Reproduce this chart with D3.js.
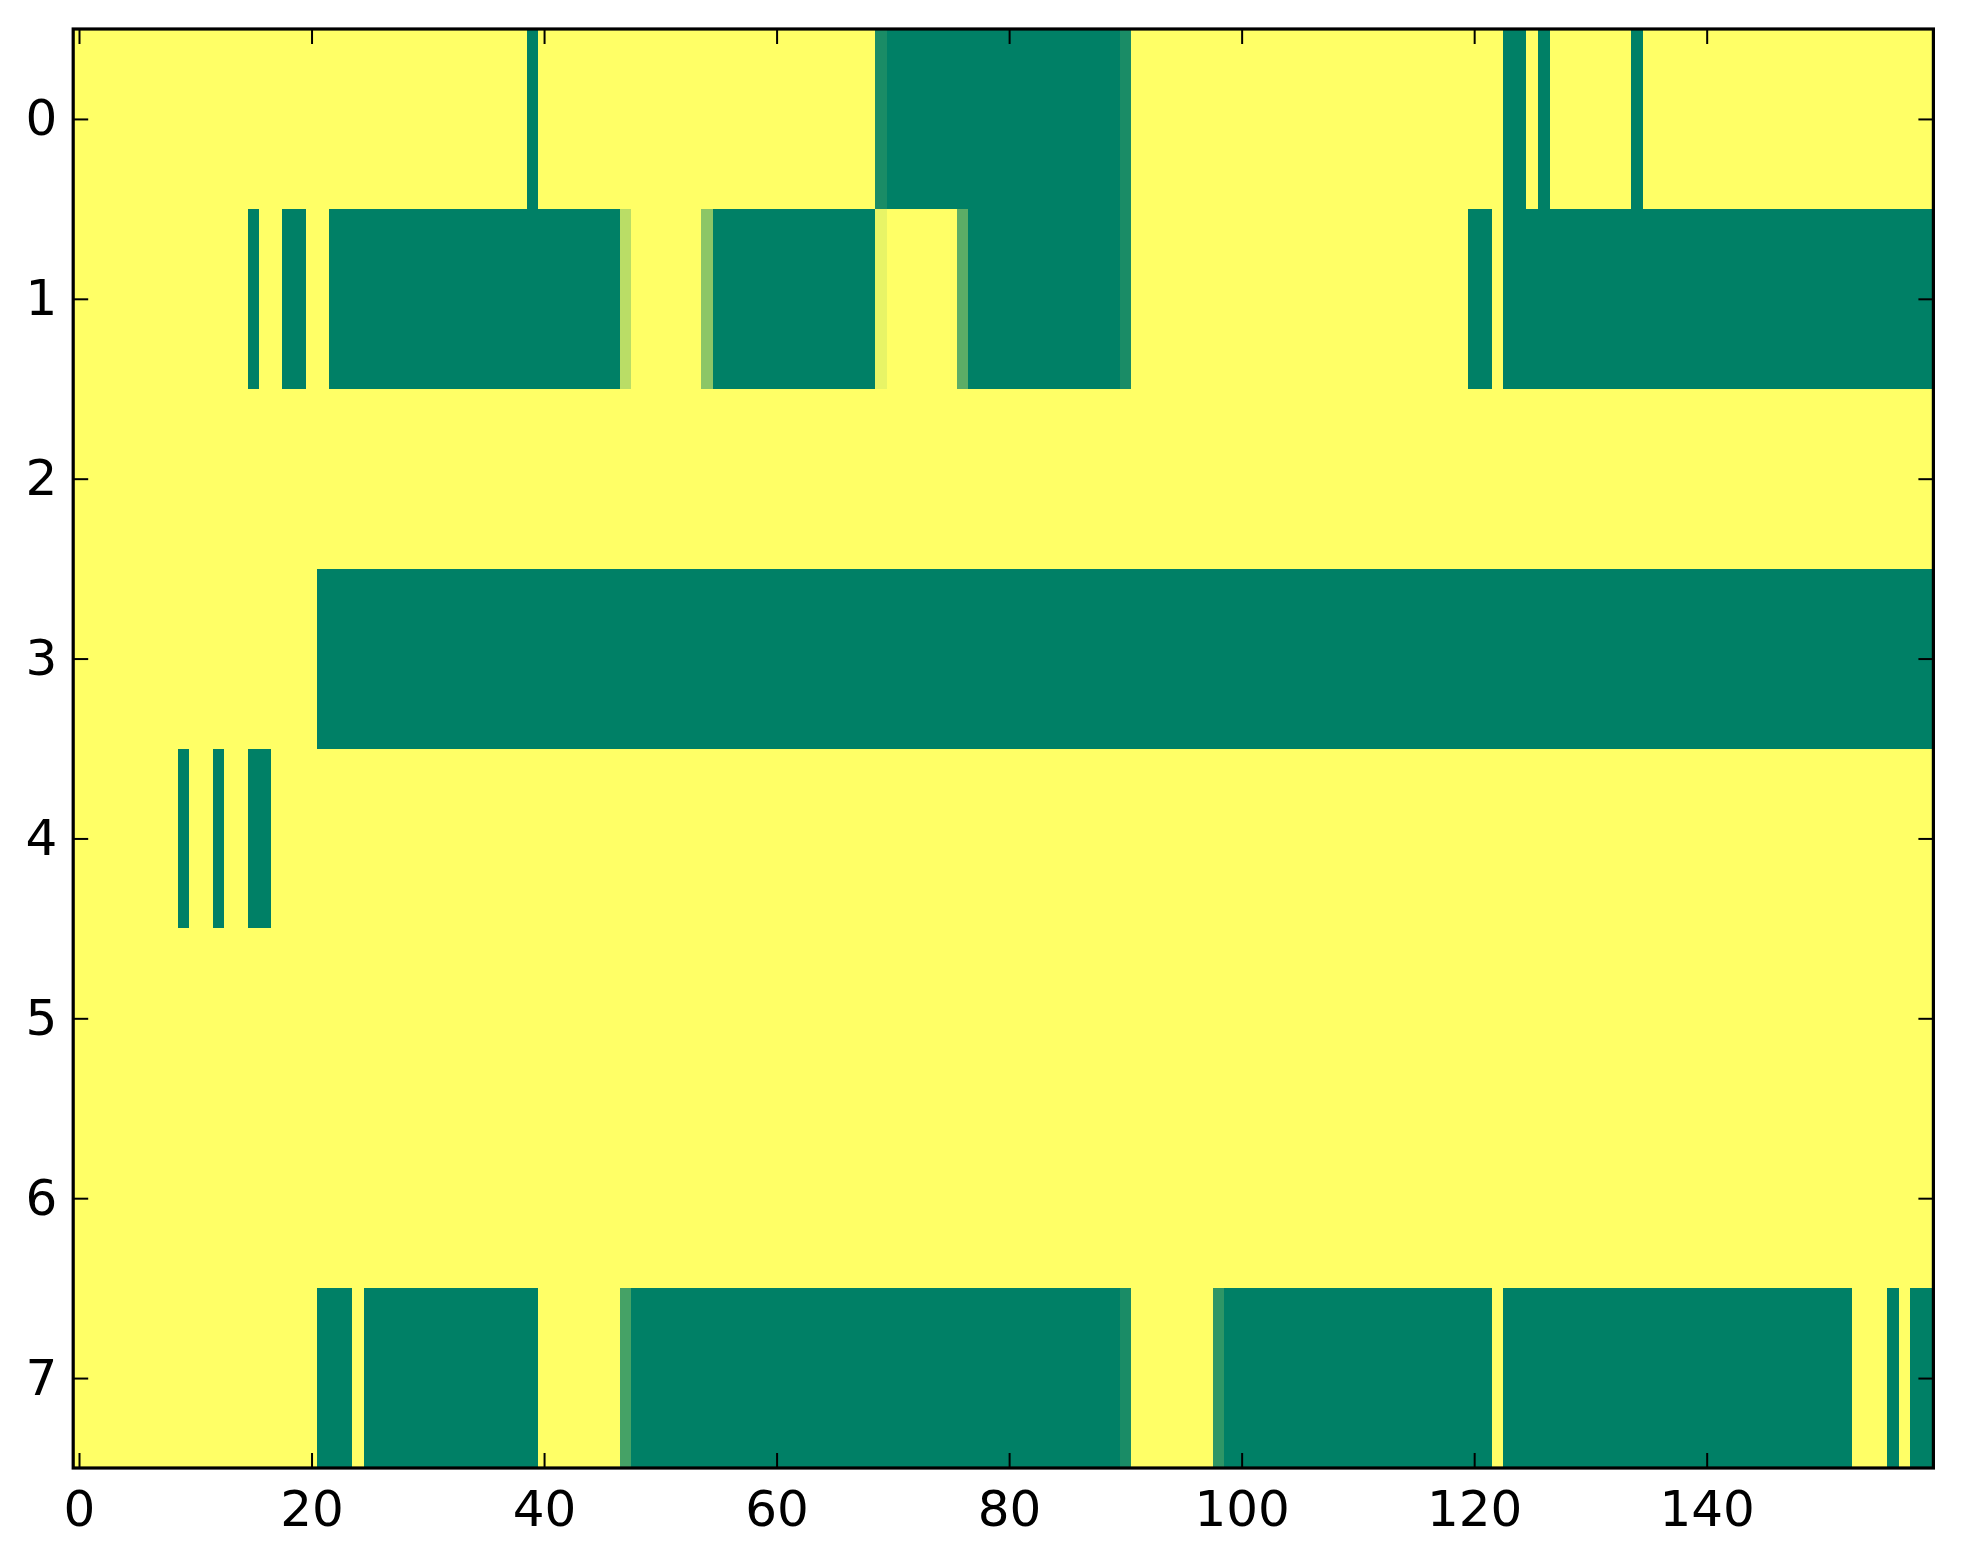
<!DOCTYPE html>
<html>
<head>
<meta charset="utf-8">
<script src="https://cdn.jsdelivr.net/npm/d3@7"></script>
<style>
  body { margin: 0; background: #fff; }
  svg { display: block; }
  .tick text { font-family: "DejaVu Sans", sans-serif; font-size: 50px; fill: #000; }
</style>
</head>
<body>
<div id="chart"></div>
<script>

// one array per image row (row 0 at the top), 160 columns each
const row0 = [
  1,1,1,1,1,1,1,1,1,1,1,1,1,1,1,1,1,1,1,1,
  1,1,1,1,1,1,1,1,1,1,1,1,1,1,1,1,1,1,1,0,
  1,1,1,1,1,1,1,1,1,1,1,1,1,1,1,1,1,1,1,1,
  1,1,1,1,1,1,1,1,1,0.1,0,0,0,0,0,0,0,0,0,0,
  0,0,0,0,0,0,0,0,0,0,0.1,1,1,1,1,1,1,1,1,1,
  1,1,1,1,1,1,1,1,1,1,1,1,1,1,1,1,1,1,1,1,
  1,1,1,0,0,1,0,1,1,1,1,1,1,1,0,1,1,1,1,1,
  1,1,1,1,1,1,1,1,1,1,1,1,1,1,1,1,1,1,1,1
];
const row1 = [
  1,1,1,1,1,1,1,1,1,1,1,1,1,1,1,0,1,1,0,0,
  1,1,0,0,0,0,0,0,0,0,0,0,0,0,0,0,0,0,0,0,
  0,0,0,0,0,0,0,0.73,1,1,1,1,1,1,0.55,0,0,0,0,0,
  0,0,0,0,0,0,0,0,0,0.91,1,1,1,1,1,1,0.36,0,0,0,
  0,0,0,0,0,0,0,0,0,0,0.1,1,1,1,1,1,1,1,1,1,
  1,1,1,1,1,1,1,1,1,1,1,1,1,1,1,1,1,1,1,1,
  0,0,1,0,0,0,0,0,0,0,0,0,0,0,0,0,0,0,0,0,
  0,0,0,0,0,0,0,0,0,0,0,0,0,0,0,0,0,0,0,0
];
const row2 = [
  1,1,1,1,1,1,1,1,1,1,1,1,1,1,1,1,1,1,1,1,
  1,1,1,1,1,1,1,1,1,1,1,1,1,1,1,1,1,1,1,1,
  1,1,1,1,1,1,1,1,1,1,1,1,1,1,1,1,1,1,1,1,
  1,1,1,1,1,1,1,1,1,1,1,1,1,1,1,1,1,1,1,1,
  1,1,1,1,1,1,1,1,1,1,1,1,1,1,1,1,1,1,1,1,
  1,1,1,1,1,1,1,1,1,1,1,1,1,1,1,1,1,1,1,1,
  1,1,1,1,1,1,1,1,1,1,1,1,1,1,1,1,1,1,1,1,
  1,1,1,1,1,1,1,1,1,1,1,1,1,1,1,1,1,1,1,1
];
const row3 = [
  1,1,1,1,1,1,1,1,1,1,1,1,1,1,1,1,1,1,1,1,
  1,0,0,0,0,0,0,0,0,0,0,0,0,0,0,0,0,0,0,0,
  0,0,0,0,0,0,0,0,0,0,0,0,0,0,0,0,0,0,0,0,
  0,0,0,0,0,0,0,0,0,0,0,0,0,0,0,0,0,0,0,0,
  0,0,0,0,0,0,0,0,0,0,0,0,0,0,0,0,0,0,0,0,
  0,0,0,0,0,0,0,0,0,0,0,0,0,0,0,0,0,0,0,0,
  0,0,0,0,0,0,0,0,0,0,0,0,0,0,0,0,0,0,0,0,
  0,0,0,0,0,0,0,0,0,0,0,0,0,0,0,0,0,0,0,0
];
const row4 = [
  1,1,1,1,1,1,1,1,1,0,1,1,0,1,1,0,0,1,1,1,
  1,1,1,1,1,1,1,1,1,1,1,1,1,1,1,1,1,1,1,1,
  1,1,1,1,1,1,1,1,1,1,1,1,1,1,1,1,1,1,1,1,
  1,1,1,1,1,1,1,1,1,1,1,1,1,1,1,1,1,1,1,1,
  1,1,1,1,1,1,1,1,1,1,1,1,1,1,1,1,1,1,1,1,
  1,1,1,1,1,1,1,1,1,1,1,1,1,1,1,1,1,1,1,1,
  1,1,1,1,1,1,1,1,1,1,1,1,1,1,1,1,1,1,1,1,
  1,1,1,1,1,1,1,1,1,1,1,1,1,1,1,1,1,1,1,1
];
const row5 = row2.slice();
const row6 = row2.slice();
const row7 = [
  1,1,1,1,1,1,1,1,1,1,1,1,1,1,1,1,1,1,1,1,
  1,0,0,0,1,0,0,0,0,0,0,0,0,0,0,0,0,0,0,0,
  1,1,1,1,1,1,1,0.27,0,0,0,0,0,0,0,0,0,0,0,0,
  0,0,0,0,0,0,0,0,0,0,0,0,0,0,0,0,0,0,0,0,
  0,0,0,0,0,0,0,0,0,0,0.1,1,1,1,1,1,1,1,0.18,0,
  0,0,0,0,0,0,0,0,0,0,0,0,0,0,0,0,0,0,0,0,
  0,0,1,0,0,0,0,0,0,0,0,0,0,0,0,0,0,0,0,0,
  0,0,0,0,0,0,0,0,0,0,0,0,0,1,1,1,0,1,0,0
];

const rows = [row0, row1, row2, row3, row4, row5, row6, row7];
const xTicks = [0, 20, 40, 60, 80, 100, 120, 140];
const yTicks = [0, 1, 2, 3, 4, 5, 6, 7];

const W = 1963, H = 1564;
const plot = {left: 73.2, right: 1933.4, top: 29, bottom: 1468};
const nCols = row0.length;

const svg = d3.select("#chart").append("svg")
  .attr("width", W)
  .attr("height", H);

const x = d3.scaleLinear().domain([-0.5, nCols - 0.5]).range([plot.left, plot.right]);
const y = d3.scaleLinear().domain([-0.5, rows.length - 0.5]).range([plot.top, plot.bottom]);

// matplotlib "summer" colormap
const summer = v => d3.rgb(v * 255, (0.5 + v / 2) * 255, 0.4 * 255);

const cells = [];
rows.forEach((r, i) => r.forEach((v, j) => cells.push({row: i, col: j, v: v})));

svg.append("g")
  .attr("shape-rendering", "crispEdges")
  .selectAll("rect")
  .data(cells)
  .join("rect")
  .attr("x", d => x(d.col - 0.5))
  .attr("y", d => y(d.row - 0.5))
  .attr("width", d => x(d.col + 0.5) - x(d.col - 0.5) + 0.6)
  .attr("height", d => y(d.row + 0.5) - y(d.row - 0.5) + 0.6)
  .attr("fill", d => summer(d.v));

const tick = 15;

const xb = svg.append("g")
  .attr("transform", `translate(0,${plot.bottom})`)
  .call(d3.axisBottom(x).tickValues(xTicks).tickSize(-tick).tickPadding(22));
const xt = svg.append("g")
  .attr("transform", `translate(0,${plot.top})`)
  .call(d3.axisTop(x).tickValues(xTicks).tickSize(-tick).tickFormat(""));
const yl = svg.append("g")
  .attr("transform", `translate(${plot.left},0)`)
  .call(d3.axisLeft(y).tickValues(yTicks).tickSize(-tick).tickPadding(16));
const yr = svg.append("g")
  .attr("transform", `translate(${plot.right},0)`)
  .call(d3.axisRight(y).tickValues(yTicks).tickSize(-tick).tickFormat(""));

[xb, xt, yl, yr].forEach(g => {
  g.select(".domain").remove();
  g.selectAll(".tick line").attr("stroke", "#000").attr("stroke-width", 2);
  g.attr("font-family", null).attr("font-size", null);
});

// axes frame
svg.append("rect")
  .attr("x", plot.left)
  .attr("y", plot.top)
  .attr("width", plot.right - plot.left)
  .attr("height", plot.bottom - plot.top)
  .attr("fill", "none")
  .attr("stroke", "#000")
  .attr("stroke-width", 3.2);

</script>
</body>
</html>
